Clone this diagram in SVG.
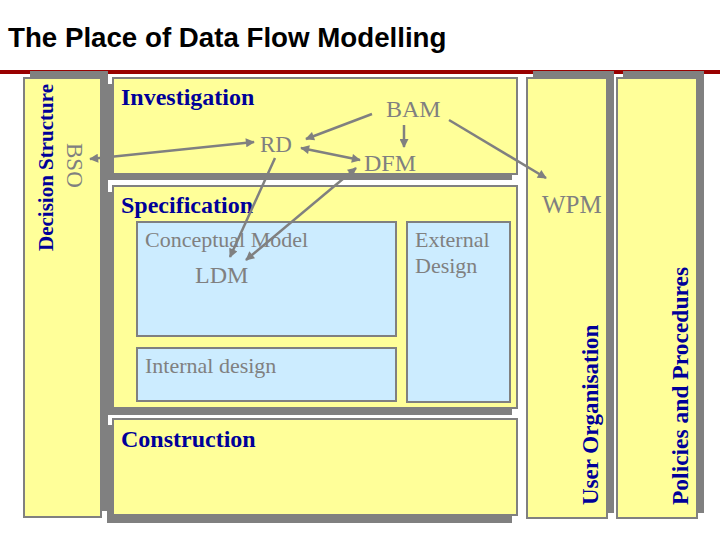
<svg xmlns="http://www.w3.org/2000/svg" width="720" height="540" viewBox="0 0 720 540">
<defs>
<style>
.shadow{fill:#808080;}
.box{fill:#FFFF99;stroke:#808080;stroke-width:2;}
.inner{fill:#CCECFF;stroke:#808080;stroke-width:2;}
.head{font-family:"Liberation Serif",serif;font-weight:bold;fill:#000099;}
.lbl{font-family:"Liberation Serif",serif;fill:#808080;}
.conn{stroke:#808080;stroke-width:2.5;fill:none;}
</style>
<marker id="ah" viewBox="0 0 10 10" refX="9" refY="5" markerWidth="10" markerHeight="9" markerUnits="userSpaceOnUse" orient="auto-start-reverse">
<path d="M0,0 L10,5 L0,10 z" fill="#808080"/>
</marker>
</defs>
<rect width="720" height="540" fill="#ffffff"/>
<text x="8" y="47" font-family="'Liberation Sans',Arial,sans-serif" font-weight="bold" font-size="27.7" fill="#000000">The Place of Data Flow Modelling</text>
<rect x="0" y="70" width="720" height="4" fill="#990000"/>

<g id="decision-structure">
<rect class="shadow" x="30" y="71" width="78" height="440"/>
<rect class="box" x="24" y="78" width="77" height="439"/>
<text class="head" font-size="21" transform="translate(53,251) rotate(-90)">Decision Structure</text>
</g>
<g id="bso">
<text class="lbl" font-size="23" transform="translate(67,143) rotate(90)">BSO</text>
</g>

<g id="user-organisation">
<rect class="shadow" x="533" y="71" width="81" height="442"/>
<rect class="box" x="527" y="78" width="80" height="440"/>
<text class="head" font-size="23" transform="translate(598,505) rotate(-90)">User Organisation</text>
</g>
<g id="policies">
<rect class="shadow" x="623" y="71" width="81" height="442"/>
<rect class="box" x="617" y="78" width="80" height="440"/>
<text class="head" font-size="23.5" transform="translate(688,505) rotate(-90)">Policies and Procedures</text>
</g>

<g id="investigation">
<rect class="shadow" x="107" y="84" width="405" height="96"/>
<rect class="box" x="113" y="78" width="404" height="96"/>
<text class="head" x="121" y="105" font-size="24">Investigation</text>
</g>

<g id="specification">
<rect class="shadow" x="107" y="192" width="405" height="223"/>
<rect class="box" x="113" y="186" width="404" height="222"/>
<text class="head" x="121" y="213" font-size="24">Specification</text>
</g>

<g id="construction">
<rect class="shadow" x="107" y="425" width="405" height="98"/>
<rect class="box" x="113" y="419" width="404" height="96"/>
<text class="head" x="121" y="447" font-size="24">Construction</text>
</g>

<g id="conceptual-model">
<rect class="inner" x="137" y="222" width="259" height="114"/>
<text class="lbl" x="145" y="247" font-size="22">Conceptual Model</text>
</g>
<g id="internal-design">
<rect class="inner" x="137" y="348" width="259" height="53"/>
<text class="lbl" x="145" y="373" font-size="22">Internal design</text>
</g>
<g id="external-design">
<rect class="inner" x="407" y="222" width="103" height="180"/>
<text class="lbl" x="415" y="247" font-size="22">External</text>
<text class="lbl" x="415" y="273" font-size="22">Design</text>
</g>

<g id="rd"><text class="lbl" x="260" y="152" font-size="23">RD</text></g>
<g id="bam"><text class="lbl" x="386" y="117" font-size="24">BAM</text></g>
<g id="dfm"><text class="lbl" x="364" y="171" font-size="24">DFM</text></g>
<g id="wpm"><text class="lbl" x="542" y="213" font-size="25">WPM</text></g>
<g id="ldm"><text class="lbl" x="195" y="283" font-size="24">LDM</text></g>

<g id="connectors">
<line class="conn" x1="90" y1="159" x2="254" y2="142" marker-start="url(#ah)" marker-end="url(#ah)"/>
<line class="conn" x1="372" y1="114" x2="306" y2="139" marker-end="url(#ah)"/>
<line class="conn" x1="404" y1="125" x2="404" y2="147" marker-end="url(#ah)"/>
<line class="conn" x1="301" y1="148" x2="360" y2="160" marker-start="url(#ah)" marker-end="url(#ah)"/>
<line class="conn" x1="449" y1="120" x2="546" y2="178" marker-end="url(#ah)"/>
<line class="conn" x1="275" y1="158" x2="230" y2="257" marker-end="url(#ah)"/>
<line class="conn" x1="356" y1="168" x2="246" y2="260" marker-start="url(#ah)" marker-end="url(#ah)"/>
</g>
</svg>
